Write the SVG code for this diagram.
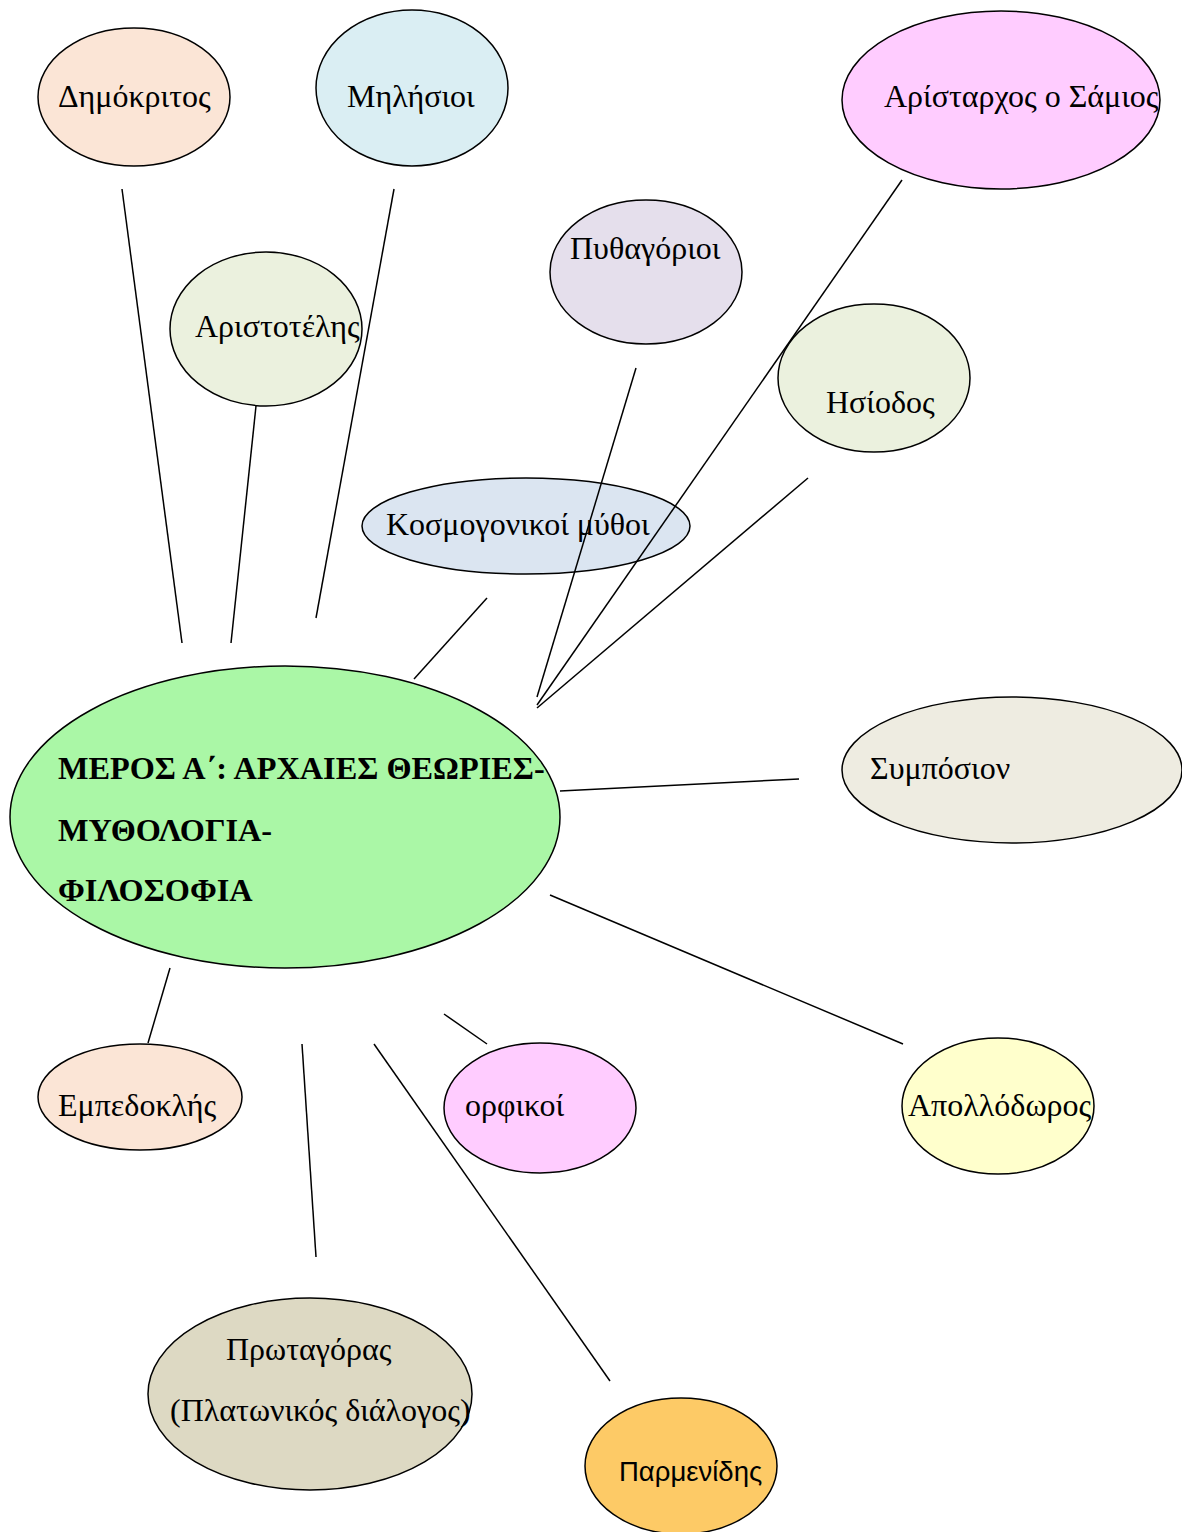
<svg xmlns="http://www.w3.org/2000/svg" width="1182" height="1532" viewBox="0 0 1182 1532">
<style>
.n{stroke:#000;stroke-width:1.5}
.t{font-family:"Liberation Serif","Times New Roman",serif;font-size:32px;fill:#000}
.b{font-family:"Liberation Serif","Times New Roman",serif;font-size:32.3px;font-weight:bold;fill:#000}
.s{font-family:"Liberation Sans",Arial,sans-serif;font-size:27.5px;fill:#000}
.c line{stroke:#000;stroke-width:1.5}
</style>
<rect width="1182" height="1532" fill="#fff"/>
<g id="n-dimokritos"><ellipse class="n" cx="134" cy="97" rx="96" ry="69" fill="#fbe5d6"/><text class="t" x="58" y="107">Δημόκριτος</text></g>
<g id="n-milisioi"><ellipse class="n" cx="412" cy="88" rx="96" ry="78" fill="#daeef3"/><text class="t" x="347" y="107">Μηλήσιοι</text></g>
<g id="n-aristarchos"><ellipse class="n" cx="1001" cy="100" rx="159" ry="89" fill="#ffccff"/><text class="t" x="884" y="107">Αρίσταρχος ο Σάμιος</text></g>
<g id="n-pythagorioi"><ellipse class="n" cx="646" cy="272" rx="96" ry="72" fill="#e5dfec"/><text class="t" x="570" y="259">Πυθαγόριοι</text></g>
<g id="n-aristotelis"><ellipse class="n" cx="266" cy="329" rx="96" ry="77" fill="#ebf1de"/><text class="t" x="195" y="337">Αριστοτέλης</text></g>
<g id="n-isiodos"><ellipse class="n" cx="874" cy="378" rx="96" ry="74" fill="#ebf1de"/><text class="t" x="826" y="413">Ησίοδος</text></g>
<g id="n-kosmogonikoi"><ellipse class="n" cx="526" cy="526" rx="164" ry="48" fill="#dbe5f1"/><text class="t" x="386" y="535">Κοσμογονικοί μύθοι</text></g>
<g id="n-main"><ellipse class="n" cx="285" cy="817" rx="275" ry="151" fill="#aaf7a6"/><text class="b" x="58" y="779">ΜΕΡΟΣ Α΄: ΑΡΧΑΙΕΣ ΘΕΩΡΙΕΣ-</text><text class="b" x="58" y="841">ΜΥΘΟΛΟΓΙΑ-</text><text class="b" x="58" y="901">ΦΙΛΟΣΟΦΙΑ</text></g>
<g id="n-symposion"><ellipse class="n" cx="1012" cy="770" rx="170" ry="73" fill="#eeece1"/><text class="t" x="870" y="779">Συμπόσιον</text></g>
<g id="n-empedoklis"><ellipse class="n" cx="140" cy="1097" rx="102" ry="53" fill="#fbe5d6"/><text class="t" x="58" y="1116">Εμπεδοκλής</text></g>
<g id="n-orfikoi"><ellipse class="n" cx="540" cy="1108" rx="96" ry="65" fill="#ffccff"/><text class="t" x="465" y="1116">ορφικοί</text></g>
<g id="n-apollodoros"><ellipse class="n" cx="998" cy="1106" rx="96" ry="68" fill="#ffffcc"/><text class="t" x="908" y="1116">Απολλόδωρος</text></g>
<g id="n-protagoras"><ellipse class="n" cx="310" cy="1394" rx="162" ry="96" fill="#ddd9c3"/><text class="t" x="226" y="1360">Πρωταγόρας</text><text class="t" x="170" y="1421">(Πλατωνικός διάλογος)</text></g>
<g id="n-parmenidis"><ellipse class="n" cx="681" cy="1466" rx="96" ry="68" fill="#fdca66"/><text class="s" x="619" y="1481">Παρμενίδης</text></g>
<g id="connectors" class="c">
<line x1="122" y1="189" x2="182" y2="643"/>
<line x1="394" y1="189" x2="316" y2="618"/>
<line x1="256" y1="406" x2="231" y2="643"/>
<line x1="487" y1="598" x2="414" y2="679"/>
<line x1="636" y1="368" x2="537" y2="697"/>
<line x1="902" y1="180" x2="537" y2="705"/>
<line x1="808" y1="478" x2="537" y2="708"/>
<line x1="560" y1="791" x2="799" y2="779"/>
<line x1="550" y1="895" x2="903" y2="1044"/>
<line x1="170" y1="968" x2="148" y2="1043"/>
<line x1="444" y1="1014" x2="487" y2="1044"/>
<line x1="302" y1="1044" x2="316" y2="1257"/>
<line x1="374" y1="1044" x2="610" y2="1381"/>
</g>
</svg>
